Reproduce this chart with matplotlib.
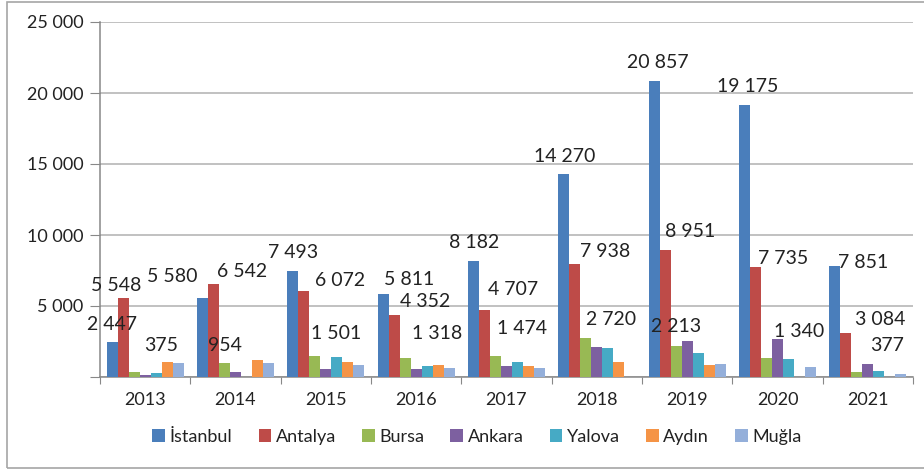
import numpy as np
import matplotlib
matplotlib.use('Agg')
import matplotlib.pyplot as plt
from matplotlib.patches import Rectangle
from matplotlib.ticker import FuncFormatter, FixedLocator

plt.rcParams['font.family'] = ['Lato', 'DejaVu Sans']

years = ['2013', '2014', '2015', '2016', '2017', '2018', '2019', '2020', '2021']
cities = ['İstanbul', 'Antalya', 'Bursa', 'Ankara', 'Yalova', 'Aydın', 'Muğla']

istanbul = [2447, 5580, 7493, 5811, 8182, 14270, 20857, 19175, 7851]
antalya = [5548, 6542, 6072, 4352, 4707, 7938, 8951, 7735, 3084]
bursa = [375, 954, 1501, 1318, 1474, 2720, 2213, 1340, 377]
ankara = [160, 330, 540, 563, 800, 2090, 2514, 2700, 915]
yalova = [260, 0, 1387, 775, 1035, 2020, 1669, 1290, 400]
aydin = [1080, 1175, 1080, 820, 800, 1035, 820, 0, 0]
mugla = [1010, 1010, 820, 610, 610, 0, 915, 725, 235]

colors = ['#4A7EBB', '#BE4B48', '#98B954', '#7D60A0', '#46AAC5', '#F59446', '#94AFDA']

# data labels as printed in the chart (text, group x, y in data units)
label_text = ['2 447', '5 548', '5 580', '375', '6 542', '954', '7 493', '6 072', '1 501',
              '5 811', '4 352', '1 318', '8 182', '4 707', '1 474', '14 270', '7 938',
              '2 720', '20 857', '8 951', '2 213', '19 175', '7 735', '1 340', '7 851',
              '3 084', '377']
label_pos = [(-0.37, 3730), (-0.32, 6410), (0.30, 7060), (0.18, 2250), (1.07, 7420),
             (0.88, 2250), (1.64, 8750), (2.16, 6780), (2.11, 3030), (2.92, 6880),
             (3.10, 5300), (3.23, 3030), (3.64, 9460), (4.07, 6130), (4.17, 3430),
             (4.64, 15560), (5.09, 8820), (5.16, 4060), (5.67, 22130), (6.03, 10230),
             (5.88, 3540), (6.67, 20490), (7.06, 8360), (7.24, 3190), (7.95, 8080),
             (8.14, 4060), (8.21, 2250)]

series = [istanbul, antalya, bursa, ankara, yalova, aydin, mugla]

fig = plt.figure(figsize=(9.24, 4.70), dpi=100)
ax = fig.add_axes([100/924, 1 - 377/470, 813/924, 355/470])

# outer chart border
fig.patches.append(Rectangle((7/924, 2/470), 1.2, 466/470, transform=fig.transFigure,
                             fill=False, edgecolor='#A6A6A6', linewidth=1.2))

x = np.arange(len(years))
w = 0.122
for i, (name, vals) in enumerate(zip(cities, series)):
    ax.bar(x + (i - 3) * w, vals, width=w, color=colors[i], label=name, zorder=3)

for t, (px, py) in zip(label_text, label_pos):
    ax.text(px, py, t, ha='center', va='center', fontsize=14, color='#222222', zorder=4)

ax.set_xlim(-0.5, len(years) - 0.5)
ax.set_ylim(0, 25000)
ax.set_yticks(np.arange(0, 25001, 5000))
ax.yaxis.set_major_formatter(FuncFormatter(lambda v, p: '' if v == 0 else f'{int(v):,}'.replace(',', ' ')))
ax.grid(axis='y', color='#B0B0B0', linewidth=1.1, zorder=0)

ax.xaxis.set_major_locator(FixedLocator(np.arange(-0.5, len(years), 1.0)))
ax.xaxis.set_minor_locator(FixedLocator(x))
ax.set_xticklabels([''] * 10)
ax.set_xticklabels(years, minor=True)
ax.tick_params(axis='x', which='major', length=5, color='#888888', direction='out')
ax.tick_params(axis='x', which='minor', length=0, pad=11, labelsize=13, labelcolor='#222222')
ax.tick_params(axis='y', length=7, color='#888888', pad=5, labelsize=13, labelcolor='#222222')

for s in ['top', 'right']:
    ax.spines[s].set_visible(False)
for s in ['left', 'bottom']:
    ax.spines[s].set_color('#888888')
    ax.spines[s].set_linewidth(1.1)

fig.legend(loc='center', bbox_to_anchor=(477/924, 1 - 437/470), ncol=7, frameon=False,
           fontsize=13, handlelength=0.7, handleheight=0.7, handletextpad=0.25,
           columnspacing=1.45, labelcolor='#222222')

fig.savefig('out.png', dpi=100)
